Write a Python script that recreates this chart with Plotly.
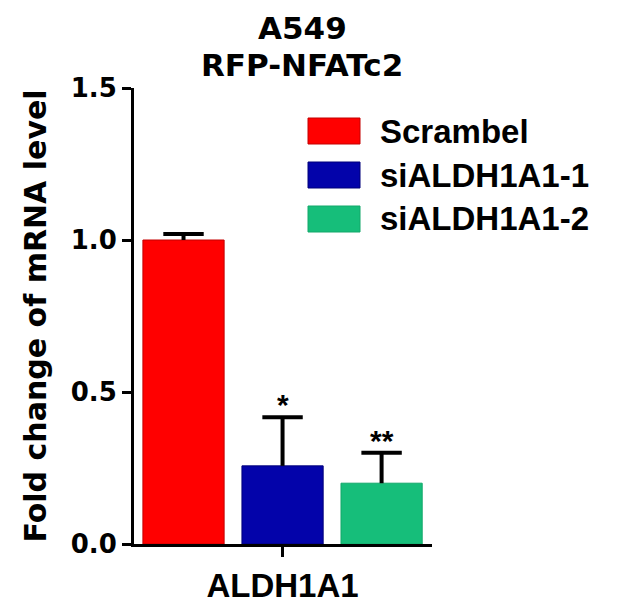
import plotly.graph_objects as go

# ---------------- data ----------------
categories = ["ALDH1A1"]
series_names = ["Scrambel", "siALDH1A1-1", "siALDH1A1-2"]
series_means = [1.00, 0.257, 0.200]
series_errors = [0.02, 0.16, 0.10]
significance = ["", "*", "**"]
series_colors = ["#FF0000", "#0303AA", "#16BE7A"]
series_edges = ["#C40000", "#00007A", "#12A86A"]
y_ticks = [0.0, 0.5, 1.0, 1.5]
y_tick_labels = ["0.0", "0.5", "1.0", "1.5"]
title_lines = ["A549", "RFP-NFATc2"]
y_title = "Fold change of mRNA level"

# ---------------- layout constants ----------------
ARIAL = "Liberation Sans, Arial, sans-serif"
WIDE = "DejaVu Sans, Verdana, sans-serif"
OFF = 8  # the page body margin shifts the figure by this many pixels
W, H = 617 - OFF, 603 - OFF
L, T = 134 - OFF, 88 - OFF
R = W - (432 - OFF)
B = H - (544 - OFF)
PW, PH = W - L - R, H - T - B
BARGAP, GROUPGAP = 0.0, 0.18
CAP_HALF = 0.068  # half width of error-bar caps, in x units


def px_x(px):
    return (px - OFF - L) / PW


def px_y(py):
    return 1 - (py - OFF - T) / PH


n = len(series_names)
slot = (1 - BARGAP) / n
bar_w = slot * (1 - GROUPGAP)

fig = go.Figure()
annotations = []
for ci, cat in enumerate(categories):
    for i, (name, m, e, c, ec, s) in enumerate(zip(
            series_names, series_means, series_errors,
            series_colors, series_edges, significance)):
        pos = ci + (i - (n - 1) / 2) * slot
        fig.add_trace(go.Bar(
            x=[pos], y=[m], width=[bar_w], name=name,
            marker=dict(color=c, line=dict(color=ec, width=1)),
            showlegend=False,
        ))
        # one-sided (upper) error bar
        fig.add_trace(go.Scatter(
            x=[pos, pos, None, pos - CAP_HALF, pos + CAP_HALF],
            y=[m, m + e, None, m + e, m + e],
            mode="lines", line=dict(color="black", width=4),
            showlegend=False, hoverinfo="skip",
        ))
        if s:
            annotations.append(dict(
                x=pos, y=m + e, xref="x", yref="y",
                text="<b>%s</b>" % s, showarrow=False, yanchor="bottom", yshift=-6,
                font=dict(family=ARIAL, size=30, color="black"),
            ))

# title lines
for line, cy in zip(title_lines, [28, 64.5]):
    annotations.append(dict(
        x=px_x(302), y=px_y(cy), xref="paper", yref="paper",
        text="<b>%s</b>" % line, showarrow=False,
        xanchor="center", yanchor="middle",
        font=dict(family=WIDE, size=31, color="black"),
    ))

# legend (drawn manually with large swatches)
shapes = []
for i, (name, c, ec) in enumerate(zip(series_names, series_colors, series_edges)):
    cy = 131 + 44 * i
    shapes.append(dict(
        type="rect", xref="paper", yref="paper",
        x0=px_x(308), x1=px_x(360), y0=px_y(cy - 13), y1=px_y(cy + 13),
        fillcolor=c, line=dict(color=ec, width=1),
    ))
    annotations.append(dict(
        x=px_x(378), y=px_y(cy), xref="paper", yref="paper",
        text="<b>%s</b>" % name, showarrow=False,
        xanchor="left", yanchor="middle",
        font=dict(family=ARIAL, size=33, color="black"),
    ))

fig.update_layout(
    width=W, height=H,
    margin=dict(l=L, r=R, t=T, b=B, pad=0),
    paper_bgcolor="white", plot_bgcolor="white",
    barmode="overlay",
    annotations=annotations, shapes=shapes,
    showlegend=False,
    font=dict(family=ARIAL, color="black"),
)
fig.update_xaxes(
    range=[-0.5, 0.503], tickvals=list(range(len(categories))),
    ticktext=["<b>%s</b>" % c for c in categories],
    showline=True, linecolor="black", linewidth=3,
    ticks="outside", ticklen=10, tickwidth=3, tickcolor="black",
    tickfont=dict(family=ARIAL, size=33, color="black"),
    showgrid=False, zeroline=False, automargin=False,
)
fig.update_yaxes(
    range=[0, 1.5], tickvals=y_ticks,
    ticktext=["<b>%s</b>" % t for t in y_tick_labels],
    showline=True, linecolor="black", linewidth=3,
    ticks="outside", ticklen=9, tickwidth=3, tickcolor="black",
    tickfont=dict(family=WIDE, size=26, color="black"),
    showgrid=False, zeroline=False, automargin=False,
    title=dict(text="<b>%s</b>" % y_title, standoff=16,
               font=dict(family=WIDE, size=30, color="black")),
)

fig.write_html("out.html")
